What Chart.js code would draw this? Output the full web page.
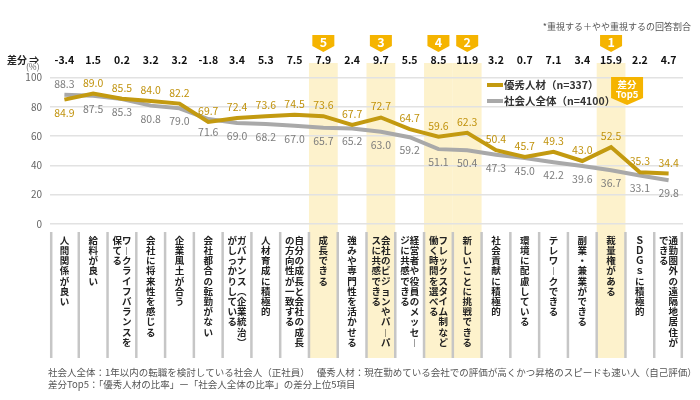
<!DOCTYPE html>
<html><head><meta charset="utf-8">
<script src="https://cdn.jsdelivr.net/npm/chart.js@4.4.1/dist/chart.umd.min.js"></script>
<style>html,body{margin:0;padding:0;background:#fff}#wrap{width:700px;height:400px;position:relative}</style>
</head><body><div id="wrap"><canvas id="c" width="700" height="400"></canvas></div>
<script>
// ---- data ----
const categories = [
  ['人間関係が良い'],
  ['給料が良い'],
  ['ワークライフバランスを','保てる'],
  ['会社に将来性を感じる'],
  ['企業風土が合う'],
  ['会社都合の転勤がない'],
  ['ガバナンス（企業統治）','がしっかりしている'],
  ['人材育成に積極的'],
  ['自分の成長と会社の成長','の方向性が一致する'],
  ['成長できる'],
  ['強みや専門性を活かせる'],
  ['会社のビジョンやパーパ','スに共感できる'],
  ['経営者や役員のメッセー','ジに共感できる'],
  ['フレックスタイム制など','働く時間を選べる'],
  ['新しいことに挑戦できる'],
  ['社会貢献に積極的'],
  ['環境に配慮している'],
  ['テレワークできる'],
  ['副業・兼業ができる'],
  ['裁量権がある'],
  ['ＳＤＧｓに積極的'],
  ['通勤圏外の遠隔地居住が','できる']
];
const yushuValues  = [84.9, 89.0, 85.5, 84.0, 82.2, 69.7, 72.4, 73.6, 74.5, 73.6, 67.7, 72.7, 64.7, 59.6, 62.3, 50.4, 45.7, 49.3, 43.0, 52.5, 35.3, 34.4];
const shakaiValues = [88.3, 87.5, 85.3, 80.8, 79.0, 71.6, 69.0, 68.2, 67.0, 65.7, 65.2, 63.0, 59.2, 51.1, 50.4, 47.3, 45.0, 42.2, 39.6, 36.7, 33.1, 29.8];
const diffLabels   = ['-3.4','1.5','0.2','3.2','3.2','-1.8','3.4','5.3','7.5','7.9','2.4','9.7','5.5','8.5','11.9','3.2','0.7','7.1','3.4','15.9','2.2','4.7'];
const topIndex = [19, 14, 11, 13, 9];
const topRank  = [1, 2, 3, 4, 5];
const seriesNames = ['優秀人材（n=337）', '社会人全体（n=4100）'];
const noteText = '*重視する＋やや重視するの回答割合';
const footer1 = '社会人全体：1年以内の転職を検討している社会人（正社員）　 優秀人材：現在勤めている会社での評価が高くかつ昇格のスピードも速い人（自己評価）';
const footer2 = '差分Top5：「優秀人材の比率」ー「社会人全体の比率」の差分上位5項目';

const GOLD = '#c39a10', GOLD_TXT = '#c0920c', GRAY = '#a9a9a9', GRAY_TXT = '#7d7d7d', BADGE = '#f5b400', HL = '#fdf2cc';
const JP = '"Noto Sans CJK JP", "Noto Sans", sans-serif';

function vert(s){
  return Array.from(s).map(ch => ({'ー':'︱','（':'︵','）':'︶'}[ch] || ch));
}
function tickLines(cols){
  const a = vert(cols[0]);
  if (cols.length === 1) return a;
  const b = vert(cols[1]);
  const n = Math.max(a.length, b.length), out = [];
  for (let i = 0; i < n; i++) out.push((b[i] || '\u3000') + (a[i] || '\u3000'));
  return out;
}

const deco = {
  id: 'deco',
  beforeDraw(chart){
    const ctx = chart.ctx, xs = chart.scales.x;
    const w = xs.width / categories.length;
    ctx.save();
    ctx.fillStyle = HL;
    topIndex.forEach(i => {
      const cx = xs.getPixelForValue(i);
      ctx.fillRect(cx - w/2, 63, w, 358 - 63);
    });
    ctx.strokeStyle = '#c6c6c6';
    ctx.lineWidth = 2.5;
    for (let k = 0; k <= categories.length; k++){
      const x = xs.left + k * w + (k === 0 ? 1.2 : 0) - (k === categories.length ? 1.2 : 0);
      ctx.beginPath(); ctx.moveTo(x, 232); ctx.lineTo(x, 358); ctx.stroke();
    }
    ctx.restore();
  },
  afterDatasetsDraw(chart){
    const ctx = chart.ctx;
    ctx.save();
    ctx.textAlign = 'center'; ctx.textBaseline = 'middle';
    ctx.font = '10.5px ' + JP;
    const m0 = chart.getDatasetMeta(0), m1 = chart.getDatasetMeta(1);
    m0.data.forEach((p, i) => {
      ctx.fillStyle = GOLD_TXT;
      ctx.fillText(yushuValues[i].toFixed(1), p.x, p.y + (i === 0 ? 13 : -11));
    });
    m1.data.forEach((p, i) => {
      ctx.fillStyle = GRAY_TXT;
      ctx.fillText(shakaiValues[i].toFixed(1), p.x, p.y + (i === 0 ? -10.5 : 13));
    });
    ctx.restore();
  },
  afterDraw(chart){
    const ctx = chart.ctx, xs = chart.scales.x;
    ctx.save();
    // rank badges
    topIndex.forEach((idx, k) => {
      const cx = xs.getPixelForValue(idx);
      ctx.fillStyle = BADGE;
      ctx.beginPath();
      ctx.moveTo(cx - 11, 35); ctx.lineTo(cx + 11, 35); ctx.lineTo(cx + 11, 46);
      ctx.lineTo(cx, 52); ctx.lineTo(cx - 11, 46); ctx.closePath(); ctx.fill();
      ctx.fillStyle = '#fff'; ctx.font = 'bold 12.5px ' + JP;
      ctx.textAlign = 'center'; ctx.textBaseline = 'middle';
      ctx.fillText(String(topRank[k]), cx, 42);
    });
    // 差分Top5 badge
    const bx = xs.getPixelForValue(19) + 16;
    ctx.fillStyle = BADGE;
    ctx.beginPath();
    ctx.moveTo(bx - 16, 77); ctx.lineTo(bx + 16, 77); ctx.lineTo(bx + 16, 98);
    ctx.lineTo(bx, 105); ctx.lineTo(bx - 16, 98); ctx.closePath(); ctx.fill();
    ctx.fillStyle = '#fff'; ctx.font = 'bold 9.5px ' + JP;
    ctx.textAlign = 'center'; ctx.textBaseline = 'middle';
    ctx.fillText('差分', bx, 84);
    ctx.fillText('Top5', bx, 94.5);
    // legend
    const lg = [[GOLD, 85], [GRAY, 101]];
    lg.forEach(([c, y], i) => {
      ctx.strokeStyle = c; ctx.lineWidth = 4;
      ctx.beginPath(); ctx.moveTo(487, y); ctx.lineTo(503, y); ctx.stroke();
      ctx.fillStyle = '#333'; ctx.font = 'bold 10.5px ' + JP;
      ctx.textAlign = 'left'; ctx.textBaseline = 'middle';
      ctx.fillText(seriesNames[i], 504, y);
    });
    // header texts
    ctx.fillStyle = '#222'; ctx.font = 'bold 10px ' + JP;
    ctx.textAlign = 'left'; ctx.textBaseline = 'middle';
    ctx.fillText('差分 ⇒', 7, 60);
    ctx.fillStyle = '#666'; ctx.font = '8.5px ' + JP;
    ctx.fillText('(%)', 26, 67);
    ctx.fillStyle = '#555'; ctx.font = '9px ' + JP;
    ctx.textAlign = 'right';
    ctx.fillText(noteText, 691, 27);
    // footer
    ctx.textAlign = 'left'; ctx.fillStyle = '#555'; ctx.font = '9.5px ' + JP;
    ctx.fillText(footer1, 48, 372);
    ctx.fillText(footer2, 48, 384);
    ctx.restore();
  }
};

new Chart(document.getElementById('c'), {
  type: 'line',
  data: {
    labels: categories.map(c => c.join('')),
    datasets: [
      { label: seriesNames[0], data: yushuValues, borderColor: GOLD, borderWidth: 4, pointRadius: 0, tension: 0, xAxisID: 'x', yAxisID: 'y' },
      { label: seriesNames[1], data: shakaiValues, borderColor: GRAY, borderWidth: 4, pointRadius: 0, tension: 0, xAxisID: 'x', yAxisID: 'y' }
    ]
  },
  options: {
    responsive: false,
    animation: false,
    devicePixelRatio: 1,
    layout: { padding: { left: 0, right: 17, top: 0, bottom: 0 } },
    plugins: { legend: { display: false }, tooltip: { enabled: false } },
    scales: {
      x: {
        type: 'category', position: 'bottom', offset: true,
        grid: { display: false, drawTicks: false },
        border: { display: false },
        ticks: {
          autoSkip: false, maxRotation: 0, minRotation: 0, padding: 11,
          color: '#222',
          font: { family: JP, size: 9.5, weight: 'bold', lineHeight: '10.2px' },
          callback: (v, i) => tickLines(categories[i])
        },
        afterFit: s => { s.height = 176; }
      },
      x2: {
        type: 'category', position: 'top', offset: true, labels: diffLabels,
        grid: { display: false, drawTicks: false },
        border: { display: false },
        ticks: {
          autoSkip: false, maxRotation: 0, minRotation: 0, padding: 11.5,
          color: '#111',
          font: { family: JP, size: 10.5, weight: 'bold', lineHeight: '12px' }
        },
        afterFit: s => { s.height = 77.5; }
      },
      y: {
        min: 0, max: 100,
        grid: { color: '#e2e2e2', lineWidth: 1.5, drawTicks: false },
        border: { display: false },
        ticks: { stepSize: 20, padding: 8, color: '#666', font: { family: JP, size: 10 } },
        afterFit: s => { s.width = 50; }
      }
    }
  },
  plugins: [deco]
});
</script></body></html>
